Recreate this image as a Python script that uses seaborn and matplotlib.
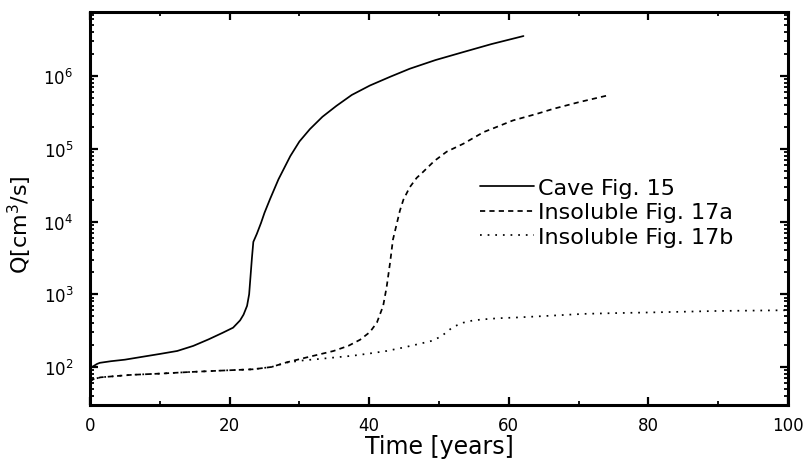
import numpy as np
import pandas as pd
import matplotlib
matplotlib.use("Agg")
import matplotlib.pyplot as plt
import matplotlib.ticker as mticker
import seaborn as sns

# ---- data ----
cave_t = [0, 0.3, 1.0, 1.4, 3, 5, 7.5, 10, 12.5, 14.8, 17, 19, 20.5, 21.5, 22.0, 22.5, 22.8,
          23.0, 23.2, 23.4, 23.9, 24.5, 25.0, 25.8, 27.0, 28.7, 30.0, 31.5, 33.3, 35.3, 37.5,
          40.1, 43, 45.8, 49.5, 53.5, 57.5, 62.1]
cave_q = [98, 100, 110, 114, 120, 126, 138, 151, 166, 195, 240, 295, 347, 437, 525, 692, 1000,
          1778, 3162, 5248, 6761, 9550, 13183, 20417, 38019, 79433, 125893, 186209, 275423,
          389045, 549541, 741310, 977237, 1.26e6, 1.66e6, 2.14e6, 2.75e6, 3.55e6]

insol_a_t = [0, 0.5, 1.5, 3, 6, 10, 14, 18.6, 23.4, 26, 28.2, 31.0, 34.9, 37, 38.7, 40.1, 41.1,
             42.0, 42.5, 43.0, 43.4, 43.9, 44.4, 44.9, 45.8, 46.8, 47.7, 49.3, 51.1, 53.5, 56.4,
             58, 60.6, 64, 66.4, 70, 74.0]
insol_a_q = [63, 68, 72, 74, 78, 81, 85, 89, 93, 100, 116, 135, 166, 195, 237, 302, 407, 692,
             1259, 2754, 5623, 8913, 14125, 19953, 29512, 39811, 47863, 67608, 91201, 117490,
             169824, 194984, 245471, 301995, 354813, 436516, 537032]

insol_b_t = [0, 0.5, 1.5, 3, 6, 10, 14, 18.6, 23.4, 26, 28.2, 30.5, 32.9, 35, 37.7, 40, 42.5,
             45, 47.3, 49, 50.3, 51.1, 52, 53.5, 54.9, 56.4, 58.5, 61.1, 65, 70.7, 75, 80.2,
             85, 89.8, 95, 100]
insol_b_q = [63, 68, 72, 74, 78, 81, 85, 89, 93, 100, 115, 123, 129, 135, 143, 153, 166, 186,
             209, 229, 263, 302, 355, 407, 437, 452, 468, 479, 501, 537, 550, 562, 575, 589,
             596, 603]

labels = ["Cave Fig. 15", "Insoluble Fig. 17a", "Insoluble Fig. 17b"]
xticks = [0, 20, 40, 60, 80, 100]

# ---- style ----
sns.set_style("ticks")
plt.rcParams["font.family"] = ["DejaVu Sans"]
plt.rcParams["mathtext.fontset"] = "dejavusans"
plt.rcParams["text.color"] = "black"
plt.rcParams["axes.labelcolor"] = "black"
plt.rcParams["xtick.color"] = "black"
plt.rcParams["ytick.color"] = "black"

fig = plt.figure(figsize=(8.05, 4.64), dpi=100)
ax = fig.add_axes([90 / 805, 1 - 406 / 464, 698 / 805, 393 / 464])

series = [
    (cave_t, cave_q, labels[0], "-"),
    (insol_a_t, insol_a_q, labels[1], (0, (3, 2.4))),
    (insol_b_t, insol_b_q, labels[2], (0, (1, 3.4))),
]
for t, q, lab, ls in series:
    df = pd.DataFrame({"t": t, "Q": q})
    sns.lineplot(data=df, x="t", y="Q", ax=ax, color="black", lw=1.25,
                 linestyle=ls, label=lab, estimator=None, sort=False)

ax.set_yscale("log")
ax.set_xlim(0, 100)
ax.set_ylim(30, 7.6e6)
ax.set_xticks(xticks)
ax.xaxis.set_minor_locator(mticker.MultipleLocator(10))
ax.yaxis.set_major_locator(mticker.LogLocator(base=10, numticks=20))
ax.yaxis.set_minor_locator(mticker.LogLocator(base=10, subs=np.arange(2, 10), numticks=20))
ax.yaxis.set_minor_formatter(mticker.NullFormatter())

for s in ax.spines.values():
    s.set_visible(True)
    s.set_linewidth(2.2)
    s.set_color("black")

ax.tick_params(which="both", direction="in", top=True, right=True, color="black",
               labelcolor="black")
ax.tick_params(which="major", length=6, width=1.6, labelsize=12)
ax.tick_params(axis="x", which="major", pad=8)
ax.tick_params(axis="y", which="major", pad=12)
ax.tick_params(which="minor", length=3, width=1.3)

ax.set_xlabel("Time [years]", fontsize=17, labelpad=0)
ax.set_ylabel(r"Q[cm$^3$/s]", fontsize=16)
ax.yaxis.set_label_coords((34 - 90) / 698, (406 - 225) / 393)

leg = ax.legend(loc="upper left", bbox_to_anchor=((480 - 90) / 698, (406 - 179) / 393),
                frameon=False, fontsize=16, handlelength=2.45, handletextpad=0.15,
                labelspacing=0.2, borderpad=0, borderaxespad=0)
for h in leg.get_lines():
    h.set_linewidth(1.25)
for txt in leg.get_texts():
    txt.set_color("black")

fig.savefig("out.png", dpi=100)
